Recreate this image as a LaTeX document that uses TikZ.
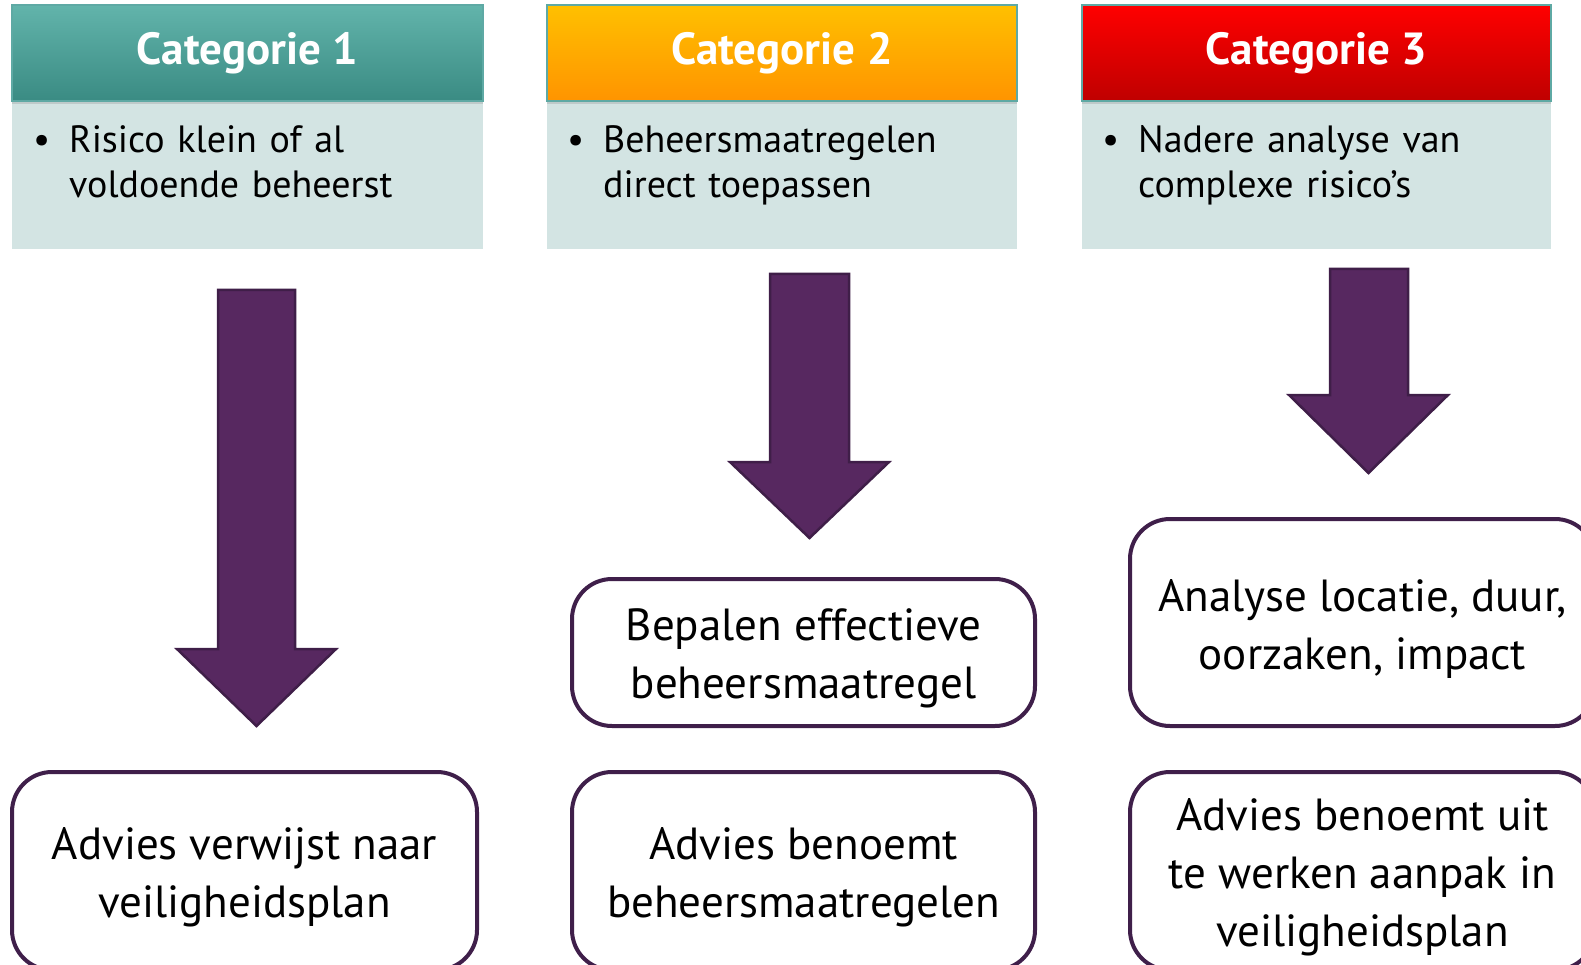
\documentclass[tikz,border=0pt]{standalone}
\usepackage{fontspec}
\setmainfont{PT Sans}
\usetikzlibrary{shadows}
\definecolor{tealtop}{HTML}{62B4AB}
\definecolor{tealbot}{HTML}{3A8B83}
\definecolor{orangetop}{HTML}{FFC000}
\definecolor{orangebot}{HTML}{FF9400}
\definecolor{redtop}{HTML}{FF0000}
\definecolor{redbot}{HTML}{BF0000}
\definecolor{hdrline}{HTML}{5EA9A4}
\definecolor{bodyfill}{HTML}{D3E4E3}
\definecolor{arrfill}{HTML}{572860}
\definecolor{arrline}{HTML}{3F1E48}
\definecolor{boxline}{HTML}{3F1F4A}
\begin{document}
\begin{tikzpicture}[x=1pt,y=-1pt,
  hdr/.style={rectangle, draw=hdrline, line width=1.5pt, minimum height=96pt,
    text=white, font=\fontsize{45}{50}\selectfont\bfseries,
    drop shadow={opacity=0.25, shadow xshift=0pt, shadow yshift=-3pt}},
  bodybox/.style={rectangle, fill=bodyfill, minimum height=148pt, inner sep=0pt},
  bodytext/.style={anchor=base west, text width=440pt, align=left, inner sep=0pt,
    font=\fontsize{38}{45}\selectfont},
  blockarrow/.style={fill=arrfill, draw=arrline, line width=2.5pt, line join=miter},
  stepbox/.style={rectangle, rounded corners=40pt, draw=boxline, line width=4pt,
    fill=white},
  steptext/.style={align=center, inner sep=0pt, font=\fontsize{45}{58}\selectfont}
]
\useasboundingbox (0,0) rectangle (1581,965);
\clip (0,0) rectangle (1581,965);

% bodies
\node[bodybox, minimum width=471pt] (b1) at (247.5,175) {};
\node[bodybox, minimum width=470pt] (b2) at (782,175) {};
\node[bodybox, minimum width=469pt] (b3) at (1316.5,175) {};

% headers
\node[hdr, top color=tealtop, bottom color=tealbot, minimum width=471pt] (h1) at (247.5,53) {Categorie 1};
\node[hdr, top color=orangetop, bottom color=orangebot, minimum width=470pt] (h2) at (782,53) {Categorie 2};
\node[hdr, top color=redtop, bottom color=redbot, minimum width=469pt] (h3) at (1316.5,53) {Categorie 3};

% bullet texts
\node[bodytext] (t1) at (69,153) {\llap{\textbullet\hspace{19pt}}Risico klein of al\\voldoende beheerst};
\node[bodytext] (t2) at (603,153) {\llap{\textbullet\hspace{19pt}}Beheersmaatregelen\\direct toepassen};
\node[bodytext] (t3) at (1138,153) {\llap{\textbullet\hspace{19pt}}Nadere analyse van\\complexe risico’s};

% block arrows
\draw[blockarrow] (218,290) -- (295,290) -- (295,649) -- (336,649) -- (256.5,726) -- (177,649) -- (218,649) -- cycle;
\draw[blockarrow] (770,274) -- (849,274) -- (849,462) -- (889,462) -- (809.5,538) -- (730,462) -- (770,462) -- cycle;
\draw[blockarrow] (1330,269) -- (1408,269) -- (1408,395) -- (1448,395) -- (1368.5,473) -- (1289,395) -- (1330,395) -- cycle;

% step boxes
\node[stepbox, minimum width=465pt, minimum height=198pt] (r1) at (244.5,871) {};
\node[stepbox, minimum width=463pt, minimum height=147pt] (m2) at (803.5,652.5) {};
\node[stepbox, minimum width=463pt, minimum height=198pt] (r2) at (803.5,871) {};
\node[stepbox, minimum width=465pt, minimum height=207pt] (m3) at (1362.5,622.5) {};
\node[stepbox, minimum width=465pt, minimum height=198pt] (r3) at (1362.5,871) {};

\node[steptext] (r1t) at ([yshift=-6pt]r1.center) {Advies verwijst naar\\veiligheidsplan};
\node[steptext] (m2t) at ([yshift=-6pt]m2.center) {Bepalen effectieve\\beheersmaatregel};
\node[steptext] (r2t) at ([yshift=-6pt]r2.center) {Advies benoemt\\beheersmaatregelen};
\node[steptext] (m3t) at ([yshift=-6pt]m3.center) {Analyse locatie, duur,\\oorzaken, impact};
\node[steptext] (r3t) at ([yshift=-6pt]r3.center) {Advies benoemt uit\\te werken aanpak in\\veiligheidsplan};
\end{tikzpicture}
\end{document}
